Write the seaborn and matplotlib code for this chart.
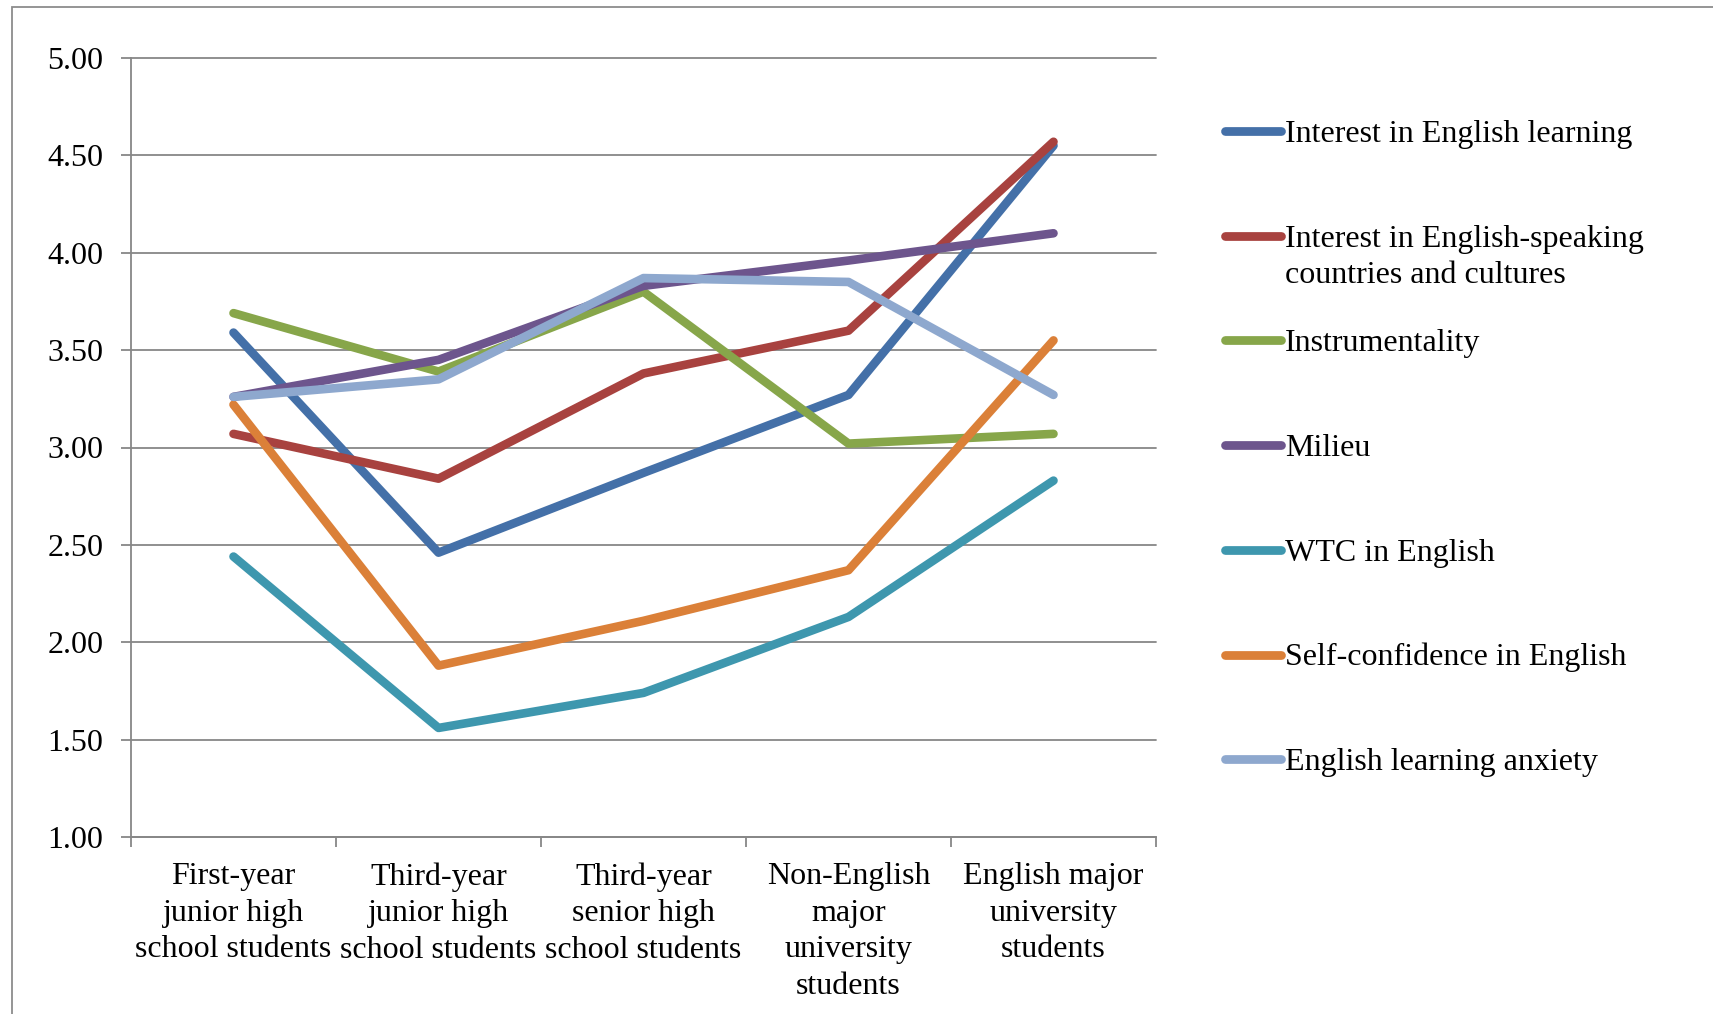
import numpy as np
import pandas as pd
import matplotlib
matplotlib.use("Agg")
import matplotlib.pyplot as plt
import seaborn as sns
from matplotlib.lines import Line2D
from matplotlib.patches import Rectangle

# ---------------- data ----------------
categories = [
    "First-year\njunior high\nschool students",
    "Third-year\njunior high\nschool students",
    "Third-year\nsenior high\nschool students",
    "Non-English\nmajor\nuniversity\nstudents",
    "English major\nuniversity\nstudents",
]
series_names = [
    "Interest in English learning",
    "Interest in English-speaking\ncountries and cultures",
    "Instrumentality",
    "Milieu",
    "WTC in English",
    "Self-confidence in English",
    "English learning anxiety",
]
interest_learning = [3.59, 2.46, 2.87, 3.27, 4.55]
interest_cultures = [3.07, 2.84, 3.38, 3.60, 4.57]
instrumentality = [3.69, 3.39, 3.80, 3.02, 3.07]
milieu = [3.26, 3.45, 3.83, 3.96, 4.10]
wtc_english = [2.44, 1.56, 1.74, 2.13, 2.83]
self_confidence = [3.22, 1.88, 2.11, 2.37, 3.55]
learning_anxiety = [3.26, 3.35, 3.87, 3.85, 3.27]
y_ticks = [1.00, 1.50, 2.00, 2.50, 3.00, 3.50, 4.00, 4.50, 5.00]

colors = ["#4470A8", "#A8423F", "#87A64A", "#6D558D", "#3E97AE", "#DB8038", "#8EA8CE"]

all_values = [interest_learning, interest_cultures, instrumentality, milieu,
              wtc_english, self_confidence, learning_anxiety]
rows = []
for name, vals in zip(series_names, all_values):
    for cat, v in zip(categories, vals):
        rows.append({"group": cat, "series": name, "value": v})
df = pd.DataFrame(rows)

# ---------------- style ----------------
sns.set_theme(style="white")
plt.rcParams["font.family"] = ["Liberation Serif", "DejaVu Serif"]

W, H = 1713, 1014
GRAY = "#878787"
FS = 23

fig = plt.figure(figsize=(W / 100, H / 100), dpi=100)
fig.patch.set_facecolor("white")
ax = fig.add_axes([131 / W, 1 - 837 / H, (1156 - 131) / W, (837 - 58) / H])

sns.lineplot(data=df, x="group", y="value", hue="series", hue_order=series_names,
             palette=colors, sort=False, estimator=None, legend=False,
             linewidth=6.2, solid_capstyle="round", solid_joinstyle="round", ax=ax)

ax.set_xlim(-0.5, len(categories) - 0.5)
ax.set_ylim(y_ticks[0], y_ticks[-1])
ax.set_xlabel("")
ax.set_ylabel("")

# y axis
ax.set_yticks(y_ticks)
ax.set_yticklabels([f"{v:.2f}" for v in y_ticks])
ax.yaxis.grid(True, color=GRAY, linewidth=1.3)
ax.xaxis.grid(False)
ax.set_axisbelow(True)
for gl in ax.get_ygridlines():
    gl.set_clip_on(False)
ax.tick_params(axis="y", which="major", direction="out", length=7, width=1.3,
               color=GRAY, pad=13, labelsize=FS, labelcolor="black", left=True)

# x axis: major ticks at category boundaries, labels at centers (minor)
ax.set_xticks(np.arange(len(categories) + 1) - 0.5)
ax.set_xticklabels([])
ax.set_xticks(np.arange(len(categories)), minor=True)
ax.set_xticklabels(categories, minor=True, fontsize=FS, linespacing=1.35)
ax.tick_params(axis="x", which="major", direction="out", length=7, width=1.3,
               color=GRAY, bottom=True)
ax.tick_params(axis="x", which="minor", length=0, pad=18, labelcolor="black",
               bottom=True)

for s in ["top", "right"]:
    ax.spines[s].set_visible(False)
for s in ["left", "bottom"]:
    ax.spines[s].set_color(GRAY)
    ax.spines[s].set_linewidth(1.3)

# ---------------- legend (manual, handle on first text line) ----------------
leg_x0, leg_x1, txt_x = 1225 / W, 1281 / W, 1285 / W
leg_top, leg_pitch, line_pitch = 131, 104.7, 36.6
for i, (name, col) in enumerate(zip(series_names, colors)):
    ypx = leg_top + i * leg_pitch
    fig.add_artist(Line2D([leg_x0, leg_x1], [1 - ypx / H] * 2, color=col,
                          linewidth=6.3, solid_capstyle="round",
                          transform=fig.transFigure))
    for j, part in enumerate(name.split("\n")):
        fig.text(txt_x, 1 - (ypx + 10.8 + j * line_pitch) / H, part,
                 ha="left", va="baseline", fontsize=FS, color="black")

# outer chart frame (only top and left edges visible in the crop)
fig.add_artist(Rectangle((12 / W, -0.1), 1.2, 1 - 7 / H + 0.1,
                         transform=fig.transFigure, fill=False,
                         edgecolor="#8C8C8C", linewidth=1.3))

fig.savefig("out.png", dpi=100)
